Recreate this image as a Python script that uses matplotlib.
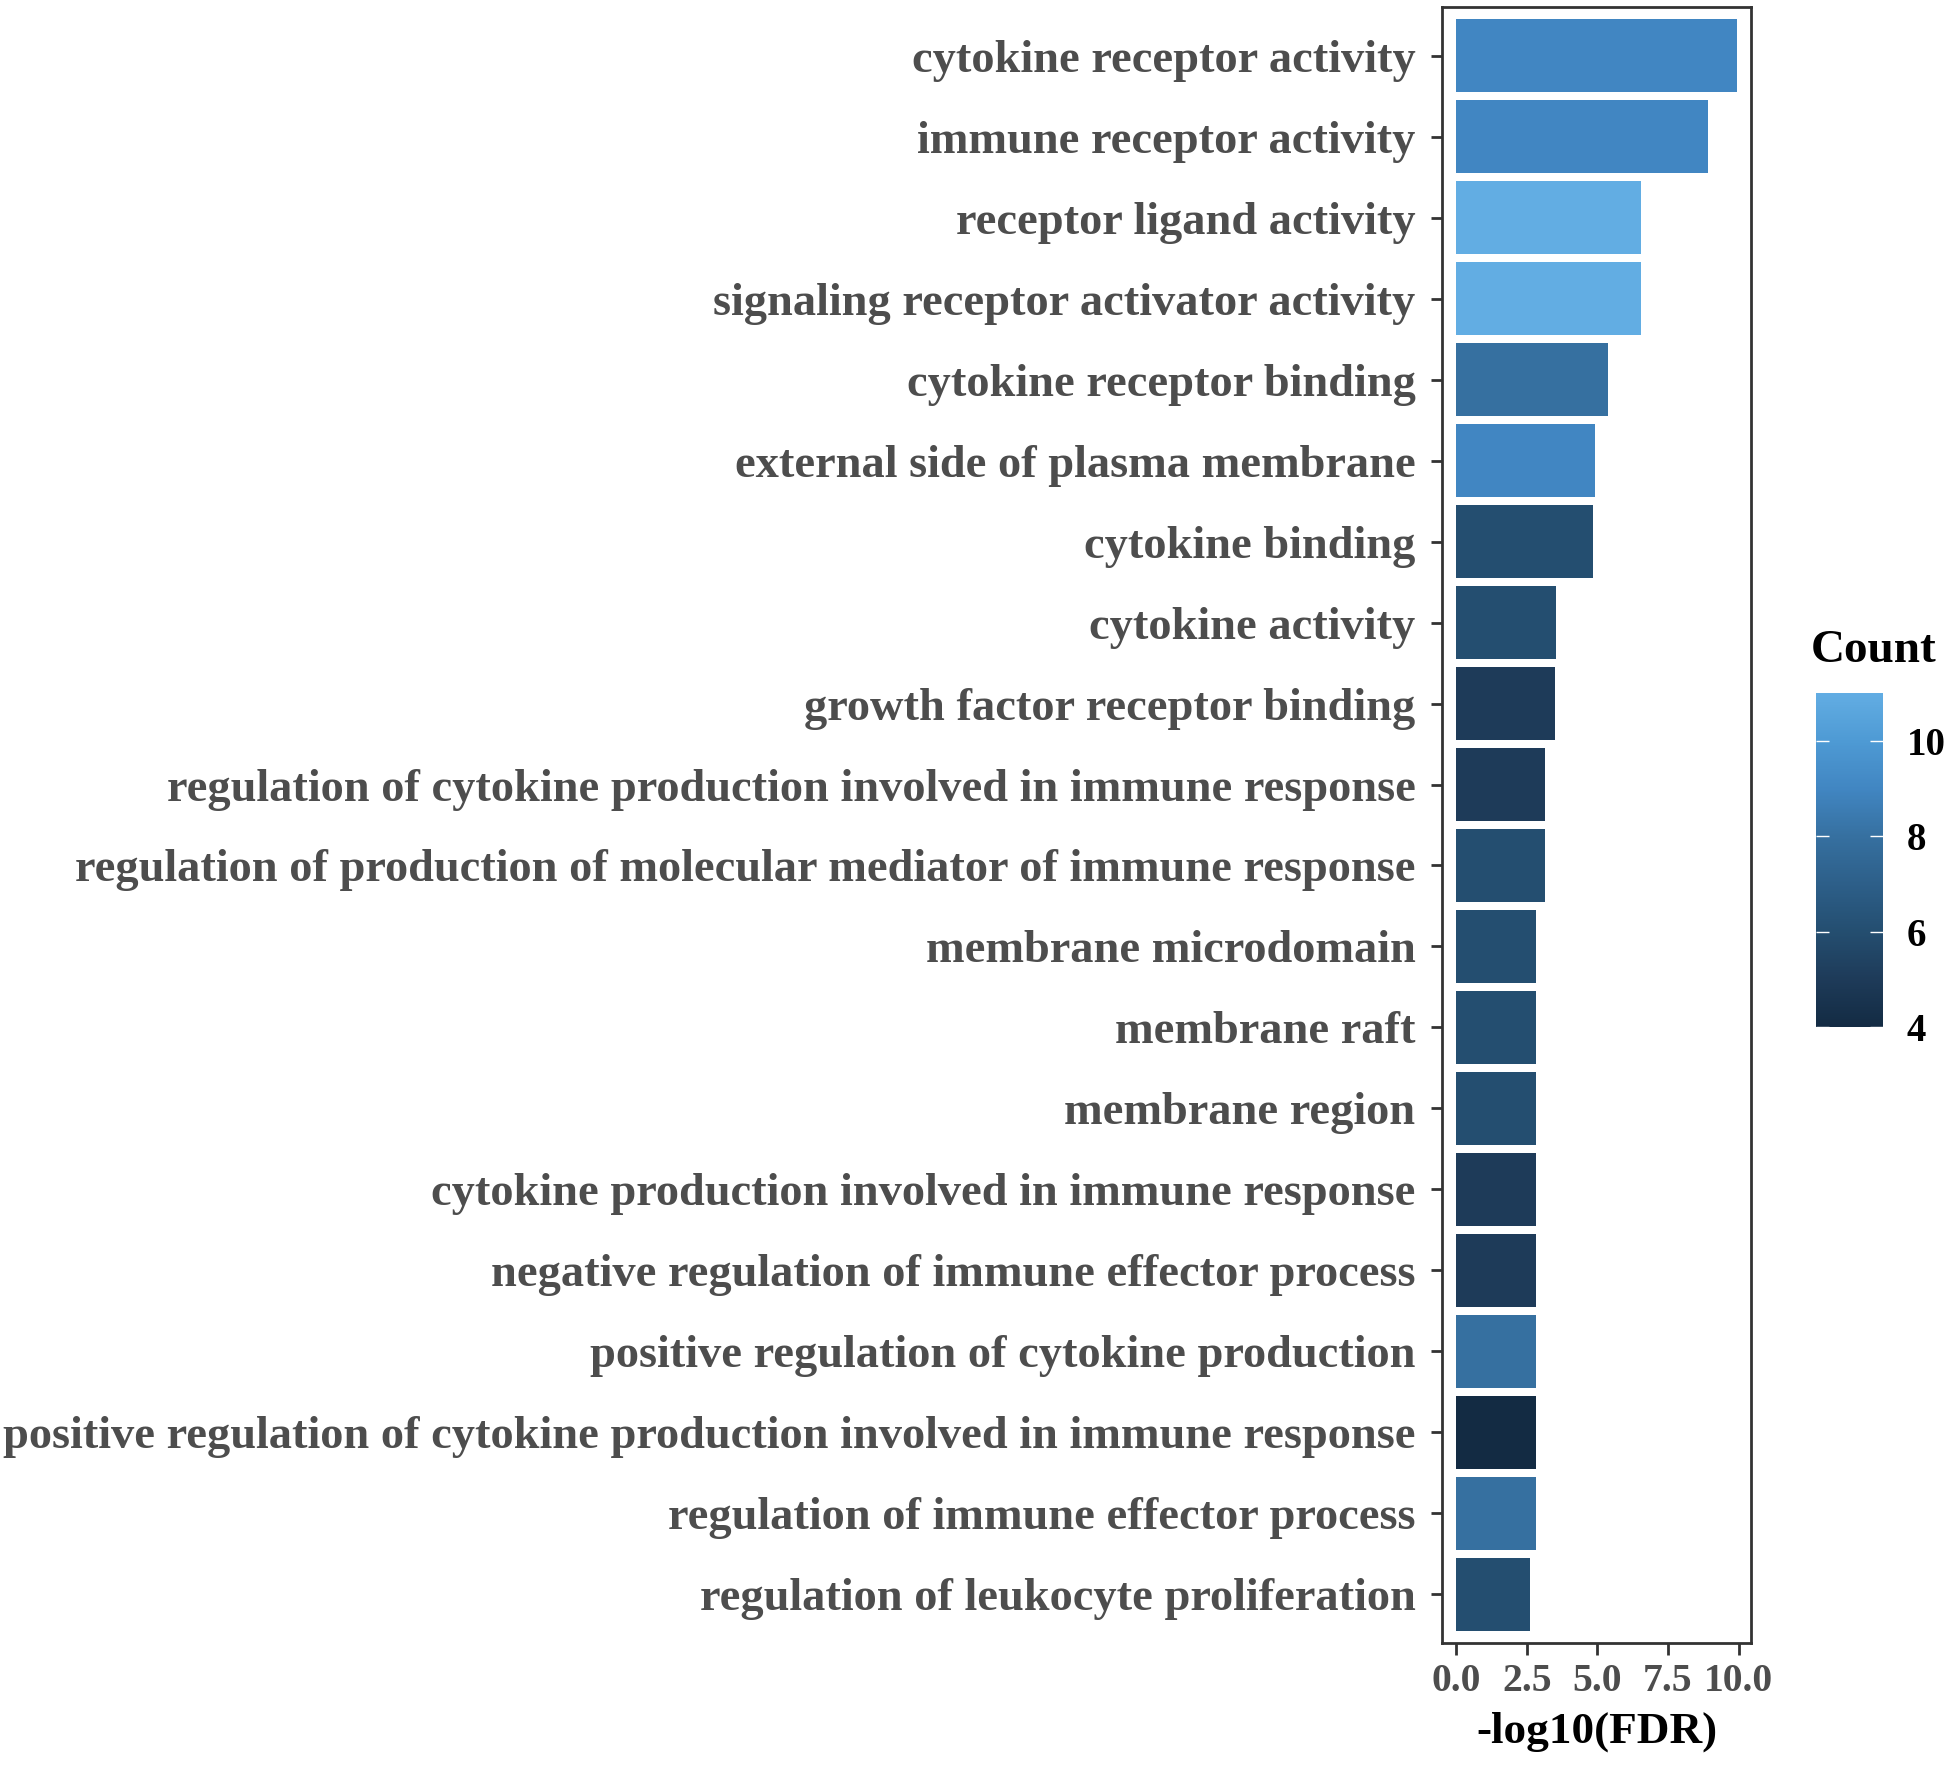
import matplotlib
matplotlib.use("Agg")
import matplotlib.pyplot as plt
import numpy as np
from matplotlib.colors import LinearSegmentedColormap, Normalize
from matplotlib.cm import ScalarMappable

plt.rcParams['font.family'] = ['Liberation Serif', 'DejaVu Serif']
plt.rcParams['font.weight'] = 'bold'

# GO terms, top to bottom
terms = ["cytokine receptor activity",
         "immune receptor activity",
         "receptor ligand activity",
         "signaling receptor activator activity",
         "cytokine receptor binding",
         "external side of plasma membrane",
         "cytokine binding",
         "cytokine activity",
         "growth factor receptor binding",
         "regulation of cytokine production involved in immune response",
         "regulation of production of molecular mediator of immune response",
         "membrane microdomain",
         "membrane raft",
         "membrane region",
         "cytokine production involved in immune response",
         "negative regulation of immune effector process",
         "positive regulation of cytokine production",
         "positive regulation of cytokine production involved in immune response",
         "regulation of immune effector process",
         "regulation of leukocyte proliferation"]
fdr = [9.94, 8.93, 6.54, 6.54, 5.37, 4.90, 4.83, 3.53, 3.51, 3.13,
       3.13, 2.83, 2.83, 2.83, 2.82, 2.82, 2.82, 2.82, 2.82, 2.63]
count = [9, 9, 11, 11, 8, 9, 6, 6, 5, 5,
         6, 6, 6, 6, 5, 5, 8, 4, 8, 6]

# ggplot-like dark to light blue gradient, counts 4..11
grad = ['#132B43', '#1E3B59', '#244E70', '#2D5F89', '#3670A0',
        '#4186C2', '#4E9AD4', '#62ADE3']
cmap = LinearSegmentedColormap.from_list('cnt', grad)
norm = Normalize(vmin=4, vmax=11)

W, H = 1950, 1766
fig = plt.figure(figsize=(W/100, H/100), dpi=100)
ax = fig.add_axes([1442/W, 1-1643/H, (1751-1442)/W, (1643-7)/H])

y = np.arange(len(terms))
ax.barh(y, fdr, height=0.9, color=cmap(norm(np.array(count))))
ax.set_ylim(len(terms)-0.4, -0.6)
ax.set_xlim(-0.497, 10.437)
ax.set_yticks(y)
ax.set_yticklabels(terms, fontsize=33.4, color='#4D4D4D', fontweight='bold')
ax.set_xticks([0, 2.5, 5, 7.5, 10])
ax.set_xticklabels(['0.0', '2.5', '5.0', '7.5', '10.0'], fontsize=28.5,
                   color='#4D4D4D', fontweight='bold')
ax.tick_params(axis='y', length=8, width=2, color='#333333', pad=11)
ax.tick_params(axis='x', length=8.6, width=2, color='#333333', pad=6)
for s in ax.spines.values():
    s.set_linewidth(2)
    s.set_color('#333333')
ax.set_xlabel('-log10(FDR)', fontsize=32.5, fontweight='bold', color='black')
ax.xaxis.set_label_coords(0.5, -0.042)

# colour bar
cax = fig.add_axes([1816/W, 1-1027/H, 67/W, 334/H])
sm = ScalarMappable(norm=norm, cmap=cmap)
cb = fig.colorbar(sm, cax=cax, ticks=[4, 6, 8, 10])
cb.outline.set_visible(False)
cax.tick_params(axis='y', direction='in', length=9.5, width=1, color='white',
                left=True, right=True, labelsize=28, pad=17)
for t in cax.get_yticklabels():
    t.set_fontweight('bold')
fig.text(1811/W, 1-651/H, 'Count', fontsize=34, fontweight='bold',
         ha='left', va='center')

fig.savefig('out.png', dpi=100)
